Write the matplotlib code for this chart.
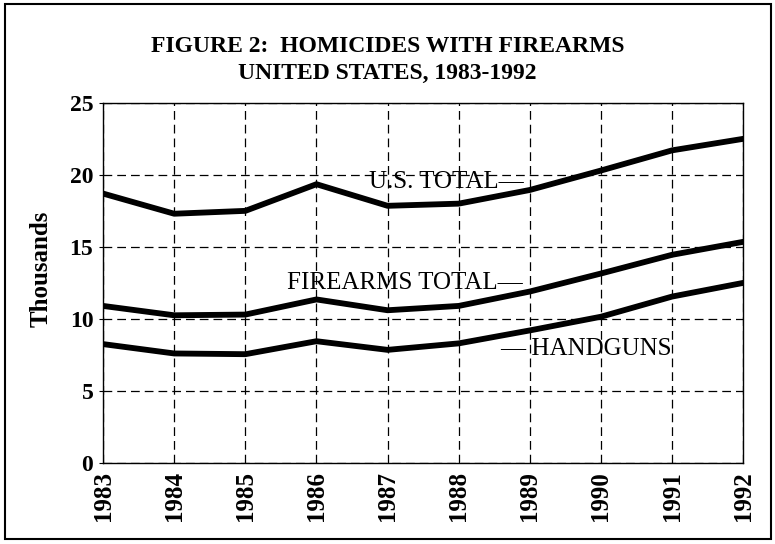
import matplotlib
matplotlib.use("Agg")
import matplotlib.pyplot as plt
from matplotlib.patches import Rectangle

years = [1983, 1984, 1985, 1986, 1987, 1988, 1989, 1990, 1991, 1992]
us_total = [18.7, 17.3, 17.5, 19.35, 17.85, 18.0, 18.95, 20.3, 21.7, 22.5]
firearms_total = [10.9, 10.25, 10.3, 11.35, 10.6, 10.9, 11.9, 13.15, 14.45, 15.35]
handguns = [8.25, 7.6, 7.55, 8.45, 7.85, 8.3, 9.2, 10.15, 11.55, 12.5]
y_ticks = [0, 5, 10, 15, 20, 25]

plt.rcParams["font.family"] = ["Liberation Serif", "DejaVu Serif"]

fig = plt.figure(figsize=(7.75, 5.44), dpi=100)
ax = fig.add_axes([0.133, 0.149, 0.826, 0.662])

for values in (us_total, firearms_total, handguns):
    ax.plot(years, values, color="black", linewidth=4.2, solid_capstyle="round")

ax.set_xlim(years[0], years[-1])
ax.set_ylim(0, 25)
ax.set_yticks(y_ticks)
ax.set_xticks(years)
ax.set_xticklabels([str(y) for y in years], rotation=90, fontsize=18, fontweight="bold")
ax.set_yticklabels([str(v) for v in y_ticks], fontsize=17, fontweight="bold")
ax.tick_params(axis="both", length=3, width=0.8, pad=4)
ax.tick_params(axis="x", length=0, pad=6)

ax.grid(True, color="black", linestyle=(0, (7, 4)), linewidth=0.9)
for s in ax.spines.values():
    s.set_linewidth(1.0)

ax.set_ylabel("Thousands", fontsize=18, fontweight="bold", labelpad=12)
ax.yaxis.label.set_y(0.54)

# series labels, with the leader dash as part of the text
ax.text(1986.74, 19.5, "U.S. TOTAL\u2014", fontsize=18, va="center", ha="left")
ax.text(1985.59, 12.5, "FIREARMS TOTAL\u2014", fontsize=18, va="center", ha="left")
ax.text(1988.58, 7.92, "\u2014 HANDGUNS", fontsize=18, va="center", ha="left")

fig.text(0.5, 0.915, "FIGURE 2:  HOMICIDES WITH FIREARMS", fontsize=17,
         fontweight="bold", ha="center", va="center")
fig.text(0.5, 0.865, "UNITED STATES, 1983-1992", fontsize=17,
         fontweight="bold", ha="center", va="center")

fig.patches.append(Rectangle((0.007, 0.01), 0.988, 0.983, transform=fig.transFigure,
                             fill=False, edgecolor="black", linewidth=1.5))

fig.savefig("out.png", dpi=100)
